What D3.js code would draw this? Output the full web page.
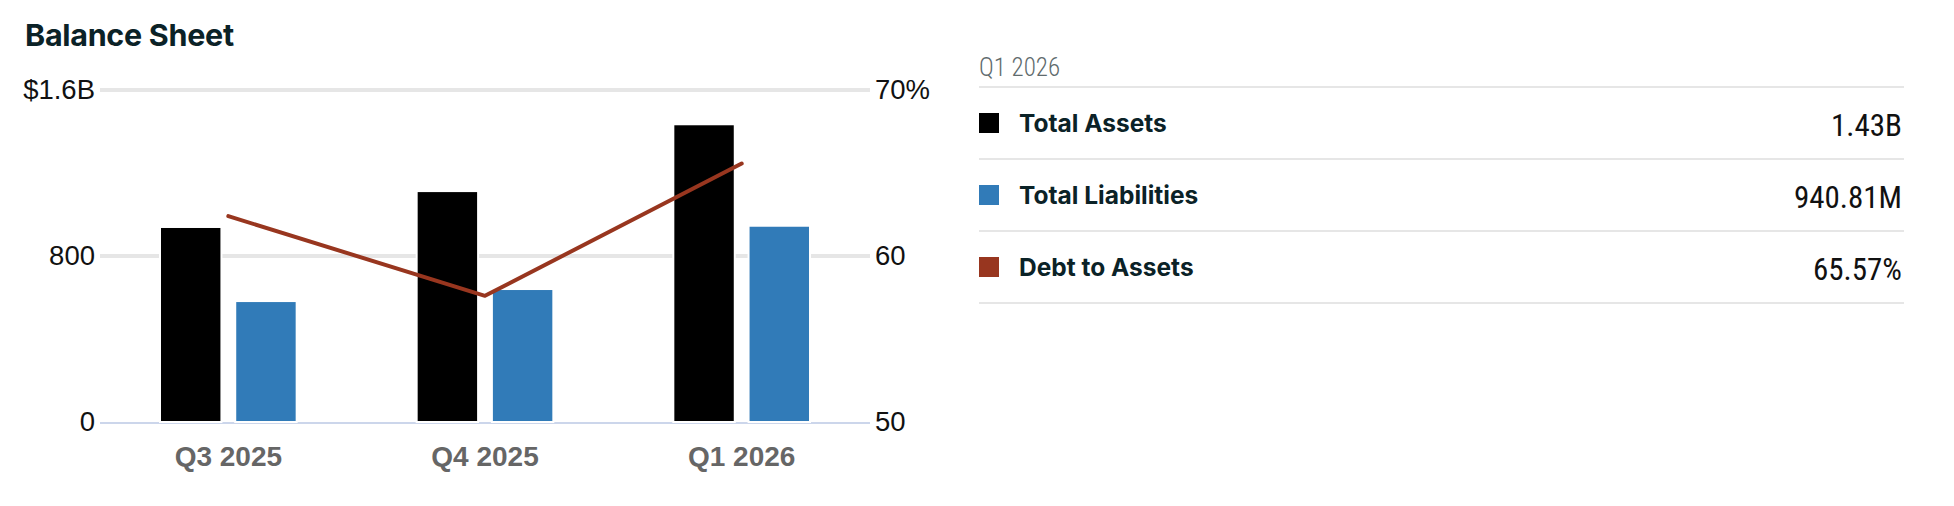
<!DOCTYPE html>
<html>
<head>
<meta charset="utf-8">
<script src="https://cdn.jsdelivr.net/npm/d3@7"></script>
<style>
  body { margin: 0; background: #fff; }
  svg { display: block; }
  .cond { font-family: "Roboto Condensed", "Liberation Sans Narrow", "DejaVu Sans Condensed", sans-serif; font-stretch: condensed; }
</style>
</head>
<body>
<svg id="chart" width="1954" height="506"></svg>
<script>
// data
const quarters = ["Q3 2025", "Q4 2025", "Q1 2026"];
const totalAssets = [0.935, 1.108, 1.43];       // $B
const totalLiabilities = [0.578, 0.636, 0.941]; // $B
const debtToAssets = [62.4, 57.6, 65.57];       // %
const leftTicks = [0, 0.8, 1.6];
const leftTickLabels = ["0", "800", "$1.6B"];
const rightTicks = [50, 60, 70];
const rightTickLabels = ["50", "60", "70%"];
const legendNames = ["Total Assets", "Total Liabilities", "Debt to Assets"];
const legendValues = ["1.43B", "940.81M", "65.57%"];
const legendPeriod = "Q1 2026";

const colors = ["#000000", "#317bb8", "#98361f"];

const svg = d3.select("#chart");

const plot = {left: 100, right: 870, top: 90, bottom: 422};

svg.append("text")
    .attr("x", 25).attr("y", 46)
    .attr("font-family", "Inter, sans-serif")
    .attr("font-weight", 700)
    .attr("font-size", 30.5)
    .attr("letter-spacing", -0.3)
    .attr("fill", "#0b2227")
    .text("Balance Sheet");

const x = d3.scaleBand()
    .domain(quarters)
    .range([plot.left, plot.right]);

const xInner = d3.scaleBand()
    .domain([0, 1])
    .range([61, x.bandwidth() - 61])
    .paddingInner(0.21);

const yLeft = d3.scaleLinear().domain([0, 1.6]).range([plot.bottom, plot.top]);
const yRight = d3.scaleLinear().domain([50, 70]).range([plot.bottom, plot.top]);

// gridlines
svg.append("g")
    .selectAll("line")
    .data(leftTicks.slice(1))
    .join("line")
    .attr("x1", plot.left).attr("x2", plot.right)
    .attr("y1", d => yLeft(d)).attr("y2", d => yLeft(d))
    .attr("stroke", "#e6e6e6")
    .attr("stroke-width", 4);

// zero axis line
svg.append("line")
    .attr("x1", plot.left).attr("x2", plot.right)
    .attr("y1", yLeft(0) + 1).attr("y2", yLeft(0) + 1)
    .attr("stroke", "#ccd6eb")
    .attr("stroke-width", 2);

// left axis
const leftAxis = d3.axisLeft(yLeft)
    .tickValues(leftTicks)
    .tickSize(0)
    .tickPadding(5)
    .tickFormat((d, i) => leftTickLabels[i]);

svg.append("g")
    .attr("transform", `translate(${plot.left},0)`)
    .call(leftAxis)
    .call(g => g.select(".domain").remove())
    .selectAll("text")
    .attr("font-family", "Liberation Sans, Arial, sans-serif")
    .attr("font-size", 27.5)
    .attr("fill", "#111");

const rightAxis = d3.axisRight(yRight)
    .tickValues(rightTicks)
    .tickSize(0)
    .tickPadding(5)
    .tickFormat((d, i) => rightTickLabels[i]);

svg.append("g")
    .attr("transform", `translate(${plot.right},0)`)
    .call(rightAxis)
    .call(g => g.select(".domain").remove())
    .selectAll("text")
    .attr("font-family", "Liberation Sans, Arial, sans-serif")
    .attr("font-size", 27.5)
    .attr("fill", "#111");

// x axis labels
const xAxis = d3.axisBottom(x).tickSize(0).tickPadding(24);
svg.append("g")
    .attr("transform", `translate(0,${plot.bottom})`)
    .call(xAxis)
    .call(g => g.select(".domain").remove())
    .selectAll("text")
    .attr("font-family", "Liberation Sans, Arial, sans-serif")
    .attr("font-weight", 700)
    .attr("font-size", 28)
    .attr("fill", "#666");

// bars
const series = [totalAssets, totalLiabilities];
const groups = svg.append("g")
    .selectAll("g")
    .data(quarters)
    .join("g")
    .attr("transform", d => `translate(${x(d)},0)`);

groups.selectAll("rect")
    .data((q, qi) => series.map((s, si) => ({si: si, v: s[qi]})))
    .join("rect")
    .attr("x", d => xInner(d.si) - 1)
    .attr("width", xInner.bandwidth() + 2)
    .attr("y", d => yLeft(d.v) - 1)
    .attr("height", d => yLeft(0) - yLeft(d.v) + 1)
    .attr("fill", d => colors[d.si])
    .attr("stroke", "#fff")
    .attr("stroke-width", 2);

// line
const line = d3.line()
    .x((d, i) => x(quarters[i]) + x.bandwidth() / 2)
    .y(d => yRight(d));

svg.append("path")
    .datum(debtToAssets)
    .attr("d", line)
    .attr("fill", "none")
    .attr("stroke", colors[2])
    .attr("stroke-width", 4)
    .attr("stroke-linecap", "round")
    .attr("stroke-linejoin", "round");

// legend table
const leg = {left: 979, right: 1904, top: 87, row: 72};

svg.append("text")
    .attr("class", "cond")
    .attr("x", leg.left).attr("y", 76)
    .attr("font-size", 25)
    .attr("font-weight", 300)
    .attr("fill", "#5f6b6d")
    .text(legendPeriod);

svg.append("g")
    .selectAll("line")
    .data(d3.range(legendNames.length + 1))
    .join("line")
    .attr("x1", leg.left).attr("x2", leg.right)
    .attr("y1", d => leg.top + d * leg.row)
    .attr("y2", d => leg.top + d * leg.row)
    .attr("stroke", "#e6e6e6")
    .attr("stroke-width", 2);

const rows = svg.append("g")
    .selectAll("g")
    .data(legendNames)
    .join("g")
    .attr("transform", (d, i) => `translate(0,${leg.top + i * leg.row + leg.row / 2})`);

rows.append("rect")
    .attr("x", leg.left).attr("y", -10)
    .attr("width", 20).attr("height", 20)
    .attr("fill", (d, i) => colors[i]);

rows.append("text")
    .attr("x", 1019).attr("y", 9)
    .attr("font-family", "Inter, sans-serif")
    .attr("font-weight", 700)
    .attr("font-size", 24.5)
    .attr("fill", "#0b2227")
    .text(d => d);

rows.append("text")
    .attr("class", "cond")
    .attr("x", 1902).attr("y", 13)
    .attr("text-anchor", "end")
    .attr("font-size", 31)
    .attr("fill", "#111")
    .text((d, i) => legendValues[i]);
</script>
</body>
</html>
